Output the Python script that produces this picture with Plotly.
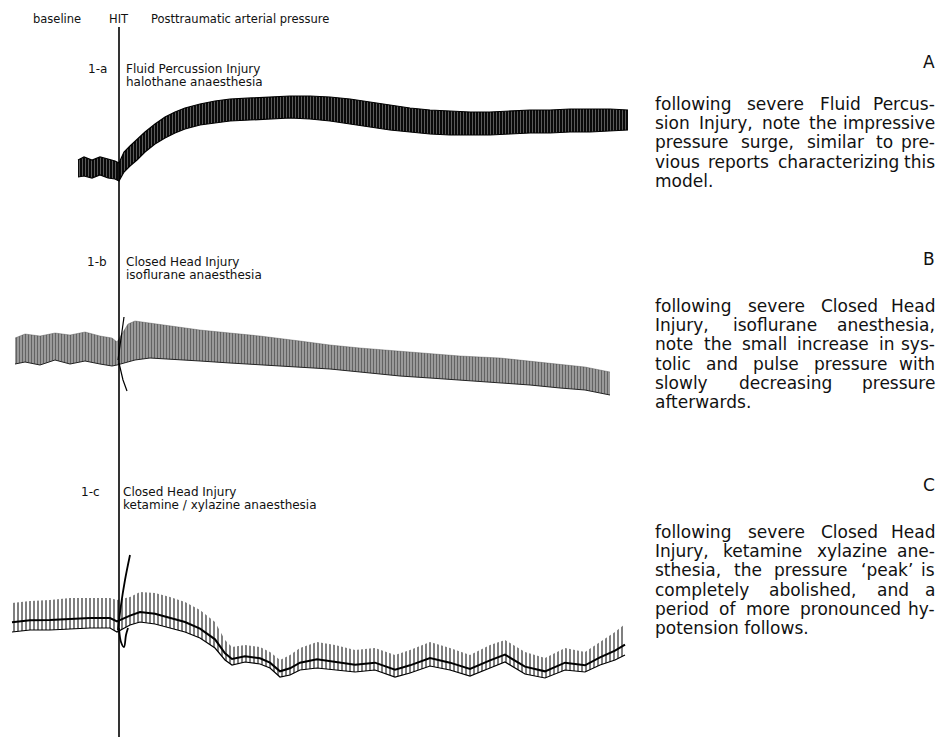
import plotly.graph_objects as go

FIG_W, FIG_H = 941, 737

# ---------------------------------------------------------------------------
# Arterial pressure records: time relative to impact (s), systolic and
# diastolic envelope of the pulsatile trace (mmHg)
# ---------------------------------------------------------------------------

# 1-a  Fluid Percussion Injury, halothane anaesthesia
t_fpi = [-41, -35, -27, -19, -11, -4, 0, 5, 11, 18, 26, 36, 46, 56, 66, 81, 96,
         111, 131, 151, 171, 191, 211, 231, 251, 271, 291, 311, 331, 351, 371,
         391, 411, 431, 451, 471, 491, 509]
sys_fpi = [117, 120, 117, 120, 118, 116, 114, 125, 131, 138, 145, 153, 160, 165,
           169, 173, 176, 178, 179, 180, 181, 181, 180, 178, 175, 172, 169, 167,
           166, 165, 165, 166, 167, 167, 168, 168, 168, 167]
dia_fpi = [100, 101, 99, 102, 99, 98, 96, 105, 111, 117, 125, 133, 139, 144,
           148, 152, 154, 156, 157, 158, 159, 158, 156, 153, 150, 147, 145, 143,
           142, 142, 142, 143, 144, 144, 145, 145, 146, 147]

# 1-b  Closed Head Injury, isoflurane anaesthesia
t_iso = [-104, -94, -79, -64, -49, -34, -19, -7, -2, 9, 16, 31, 51, 81, 111,
         141, 181, 211, 241, 281, 311, 341, 381, 411, 441, 466, 481, 491]
sys_iso = [127, 131, 129, 132, 130, 133, 129, 127, 123, 141, 144, 142, 139, 135,
           132, 129, 124, 120, 117, 114, 112, 109, 107, 104, 101, 98, 95, 93]
dia_iso = [101, 103, 100, 105, 101, 104, 101, 99, 100, 103, 105, 107, 106, 104,
           102, 100, 98, 96, 93, 89, 87, 85, 82, 80, 77, 75, 72, 70]
# impact artefact (two strokes separated by None)
t_iso_hit = [-1, 5, None, 0, 4, 8]
p_iso_hit = [105, 148, None, 102, 85, 74]

# 1-c  Closed Head Injury, ketamine / xylazine anaesthesia
t_ket = [-107, -89, -69, -49, -29, -9, -2, 11, 21, 36, 51, 66, 81, 96, 106,
         113, 126, 141, 151, 161, 171, 181, 198, 216, 236, 256, 276, 291, 311,
         331, 351, 371, 386, 406, 426, 446, 466, 481, 496, 506]
sys_ket = [117, 119, 120, 122, 122, 122, 120, 123, 128, 127, 123, 118, 110, 98,
           80, 73, 75, 73, 68, 60, 65, 72, 78, 75, 70, 72, 65, 70, 78, 72, 65,
           75, 80, 68, 62, 72, 68, 78, 88, 96]
dia_ket = [88, 90, 90, 91, 92, 92, 88, 95, 98, 96, 92, 88, 82, 72, 60, 55, 58,
           56, 52, 43, 45, 50, 52, 50, 48, 50, 43, 47, 54, 50, 44, 52, 58, 46,
           42, 50, 48, 55, 60, 65]
t_ket_hit = [-1, 2, 6, 11, None, 0, 2, 5, 7, 9]
p_ket_hit = [90, 115, 140, 165, None, 92, 78, 73, 85, 92]

# ---------------------------------------------------------------------------
# Text
# ---------------------------------------------------------------------------
header_labels = ["baseline", "HIT", "Posttraumatic arterial pressure"]
panel_ids = ["1-a", "1-b", "1-c"]
panel_titles = [
    ["Fluid Percussion Injury", "halothane anaesthesia"],
    ["Closed Head Injury", "isoflurane anaesthesia"],
    ["Closed Head Injury", "ketamine / xylazine anaesthesia"],
]
panel_letters = ["A", "B", "C"]
note_a = [
    "following severe Fluid Percus-",
    "sion Injury, note the impressive",
    "pressure surge, similar to pre-",
    "vious reports characterizing this",
    "model.",
]
note_b = [
    "following severe Closed Head",
    "Injury, isoflurane anesthesia,",
    "note the small increase in sys-",
    "tolic and pulse pressure with",
    "slowly decreasing pressure",
    "afterwards.",
]
note_c = [
    "following severe Closed Head",
    "Injury, ketamine xylazine ane-",
    "sthesia, the pressure \u2018peak\u2019 is",
    "completely abolished, and a",
    "period of more pronounced hy-",
    "potension follows.",
]

# ---------------------------------------------------------------------------
fig = go.Figure()


def add_band(t, sys, dia, yaxis, pattern, top_line, bottom_line, map_width):
    fig.add_trace(go.Scatter(x=t, y=dia, yaxis=yaxis, mode="lines",
                             line=bottom_line, hoverinfo="skip",
                             showlegend=False))
    fig.add_trace(go.Scatter(x=t, y=sys, yaxis=yaxis, mode="lines",
                             line=top_line, fill="tonexty",
                             fillcolor="rgba(255,255,255,0)",
                             fillpattern=pattern, hoverinfo="skip",
                             showlegend=False))
    if map_width:
        # mean arterial pressure = diastolic + pulse pressure / 3
        mean = [d + (s - d) / 3 for s, d in zip(sys, dia)]
        fig.add_trace(go.Scatter(x=t, y=mean, yaxis=yaxis, mode="lines",
                                 line=dict(color="black", width=map_width),
                                 hoverinfo="skip", showlegend=False))


add_band(t_fpi, sys_fpi, dia_fpi, "y",
         dict(shape="|", size=3, solidity=0.22, fgcolor="white",
              bgcolor="#0a0a0a"),
         dict(color="black", width=1.2), dict(color="black", width=1.2), 0)
add_band(t_iso, sys_iso, dia_iso, "y2",
         dict(shape="|", size=3, solidity=0.55, fgcolor="#111",
              bgcolor="rgba(90,90,90,0.45)"),
         dict(color="rgba(60,60,60,0.6)", width=0.6),
         dict(color="#222", width=1.0), 0)
add_band(t_ket, sys_ket, dia_ket, "y3",
         dict(shape="|", size=4, solidity=0.5, fgcolor="black"),
         dict(color="rgba(0,0,0,0)", width=0),
         dict(color="black", width=1.2), 2.0)

fig.add_trace(go.Scatter(x=t_iso_hit, y=p_iso_hit, yaxis="y2", mode="lines",
                         line=dict(color="black", width=1.2),
                         hoverinfo="skip", showlegend=False))
fig.add_trace(go.Scatter(x=t_ket_hit, y=p_ket_hit, yaxis="y3", mode="lines",
                         line=dict(color="black", width=1.8, shape="spline"),
                         hoverinfo="skip", showlegend=False))

# impact marker
fig.add_shape(type="line", xref="x", yref="paper", x0=0, x1=0,
              y0=0, y1=1 - 27 / FIG_H, line=dict(color="black", width=1.6))

# ---------------------------------------------------------------------------
# annotations (placed in page pixels)
# ---------------------------------------------------------------------------
FONT = "DejaVu Sans"
# DejaVu Sans advance widths, 1/1000 em
ADV = {" ": 318, ",": 318, ".": 318, "-": 361, "/": 337, "\u2018": 318,
       "\u2019": 318, "a": 613, "b": 635, "c": 550, "d": 635, "e": 615,
       "f": 352, "g": 635, "h": 634, "i": 278, "j": 278, "k": 579, "l": 278,
       "m": 974, "n": 634, "o": 612, "p": 635, "q": 635, "r": 411, "s": 521,
       "t": 392, "u": 634, "v": 592, "w": 818, "x": 592, "y": 592, "z": 525,
       "C": 698, "F": 575, "H": 752, "I": 295, "P": 603}


def text_width(s, size):
    return sum(ADV.get(c, 600) for c in s) * size / 1000.0


def put(text, px, py, size, anchor="left", color="#111"):
    fig.add_annotation(text=text, x=px / FIG_W, y=1 - py / FIG_H,
                       xref="paper", yref="paper", xanchor=anchor,
                       yanchor="middle", showarrow=False,
                       font=dict(family=FONT, size=size, color=color))


def justified(line, py, size, left, right, last=False):
    words = line.split(" ")
    if last or len(words) == 1:
        put(line, left, py, size)
        return
    widths = [text_width(w, size) for w in words]
    gap = (right - left - sum(widths)) / (len(words) - 1)
    x = left
    for i, (w, wd) in enumerate(zip(words, widths)):
        if i == len(words) - 1:
            put(w, right, py, size, "right")
        else:
            put(w, x, py, size)
        x += wd + gap


# header row
put(header_labels[0], 31, 19, 11.5)
put(header_labels[1], 119, 19, 11.5, "center")
put(header_labels[2], 149, 19, 11.5)

# panel labels
label_rows = [69, 262, 492]
id_right = [109, 109, 102]
title_left = [124, 124, 121]
for pid, titles, row, xr, xl in zip(panel_ids, panel_titles, label_rows,
                                    id_right, title_left):
    put(pid, xr, row, 12, "right")
    put(titles[0], xl, row, 12)
    put(titles[1], xl, row + 12.5, 12)

# notes on the right
TEXT_L, TEXT_R = 653, 937
LINE_STEP = 19.2
letter_rows = [62, 259, 485]
note_rows = [104, 306, 532]
for letter, note, lrow, nrow in zip(panel_letters, [note_a, note_b, note_c],
                                    letter_rows, note_rows):
    put(letter, TEXT_R, lrow, 17, "right")
    for i, line in enumerate(note):
        justified(line, nrow + i * LINE_STEP, 17, TEXT_L, TEXT_R,
                  last=(i == len(note) - 1))

# ---------------------------------------------------------------------------
# axes: one time axis, three stacked pressure axes (hidden)
# ---------------------------------------------------------------------------
IMPACT_PX = 119


def pressure_axis(top_px, bottom_px, ref_px):
    # 1 mmHg per pixel, ref_px is the 0 mmHg level
    return dict(domain=[1 - bottom_px / FIG_H, 1 - top_px / FIG_H],
                range=[ref_px - bottom_px, ref_px - top_px],
                visible=False, anchor="x")


fig.update_layout(
    width=FIG_W, height=FIG_H,
    margin=dict(l=0, r=0, t=0, b=0),
    paper_bgcolor="white", plot_bgcolor="white",
    showlegend=False,
    xaxis=dict(range=[-IMPACT_PX, FIG_W - IMPACT_PX], domain=[0, 1],
               visible=False),
    yaxis=pressure_axis(30, 235, 277),
    yaxis2=pressure_axis(240, 460, 465),
    yaxis3=pressure_axis(470, 737, 720),
)

fig.write_html("out.html", config={"displayModeBar": False})
